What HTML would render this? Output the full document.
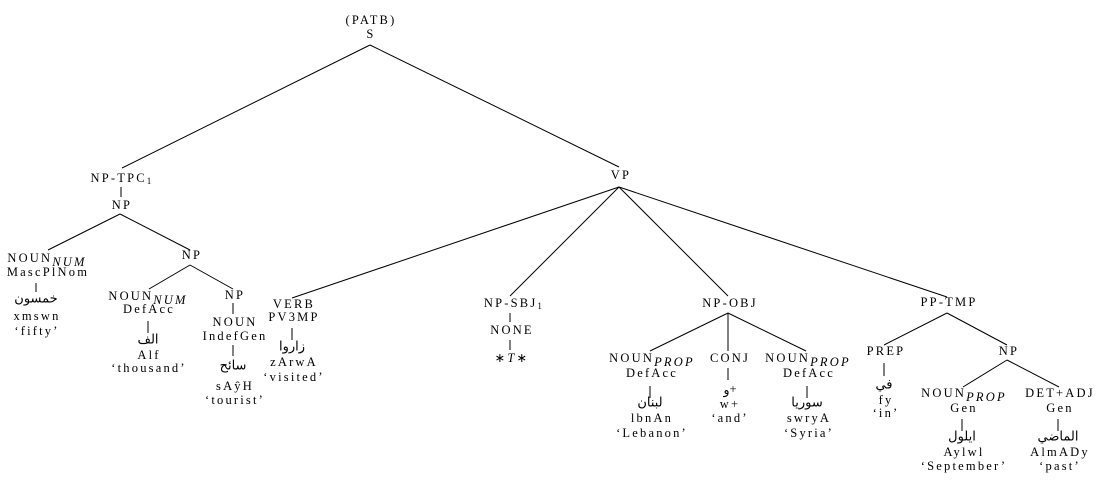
<!DOCTYPE html>
<html><head><meta charset="utf-8"><style>
html,body{margin:0;padding:0;background:#fff;}
svg text{font-family:"Liberation Serif","DejaVu Sans",serif;font-size:12.5px;fill:#000;text-anchor:middle;dominant-baseline:central;letter-spacing:2.2px;}
svg text.ar{font-family:"DejaVu Sans",sans-serif;font-size:13px;letter-spacing:0;}
line{stroke:#000;stroke-width:1;}
</style></head><body>
<svg width="1109" height="486" viewBox="0 0 1109 486" xmlns="http://www.w3.org/2000/svg">
<text x="371" y="20">(PATB)</text>
<text x="371" y="34">S</text>
<line x1="370" y1="45" x2="122" y2="168"/>
<line x1="370" y1="45" x2="619" y2="167"/>

<text x="122" y="178">NP-TPC<tspan font-size="9" dy="3">1</tspan></text>
<line x1="121" y1="187" x2="121" y2="197"/>
<text x="122" y="205">NP</text>
<line x1="120" y1="214" x2="48" y2="250"/>
<line x1="120" y1="214" x2="190" y2="250"/>

<text x="47" y="258">NOUN<tspan font-style="italic" dy="4">NUM</tspan></text>
<text x="48" y="272">MascPlNom</text>
<line x1="36" y1="283" x2="36" y2="292"/>
<text class="ar" x="36" y="299">خمسون</text>
<text x="37" y="316">xmswn</text>
<text x="37" y="331">‘fifty’</text>

<text x="192" y="255">NP</text>
<line x1="190" y1="265" x2="149" y2="289"/>
<line x1="190" y1="265" x2="233" y2="289"/>

<text x="148" y="296">NOUN<tspan font-style="italic" dy="4">NUM</tspan></text>
<text x="149" y="309">DefAcc</text>
<line x1="148" y1="321" x2="148" y2="333"/>
<text class="ar" x="148" y="340">الف</text>
<text x="149" y="355">Alf</text>
<text x="149" y="368">‘thousand’</text>

<text x="235" y="295">NP</text>
<line x1="233" y1="303" x2="233" y2="314"/>
<text x="235" y="322">NOUN</text>
<text x="235" y="336">IndefGen</text>
<line x1="233" y1="345" x2="233" y2="356"/>
<text class="ar" x="233" y="366">سائح</text>
<text x="235" y="386">sAŷH</text>
<text x="235" y="400">‘tourist’</text>

<text x="621" y="175">VP</text>
<line x1="619" y1="187" x2="292" y2="298"/>
<line x1="619" y1="187" x2="510" y2="296"/>
<line x1="619" y1="187" x2="728" y2="296"/>
<line x1="619" y1="187" x2="947" y2="297"/>

<text x="294" y="304">VERB</text>
<text x="294" y="317">PV3MP</text>
<line x1="292" y1="328" x2="292" y2="340"/>
<text class="ar" x="292" y="347">زاروا</text>
<text x="294" y="362">zArwA</text>
<text x="294" y="377">‘visited’</text>

<text x="514" y="303">NP-SBJ<tspan font-size="9" dy="3">1</tspan></text>
<line x1="510" y1="313" x2="510" y2="322"/>
<text x="512" y="330">NONE</text>
<line x1="510" y1="340" x2="510" y2="350"/>
<text x="512" y="358">∗<tspan font-style="italic">T</tspan>∗</text>

<text x="730" y="303">NP-OBJ</text>
<line x1="728" y1="313" x2="650" y2="351"/>
<line x1="728" y1="313" x2="728" y2="351"/>
<line x1="728" y1="313" x2="806" y2="351"/>

<text x="652" y="358">NOUN<tspan font-style="italic" dy="4">PROP</tspan></text>
<text x="652" y="373">DefAcc</text>
<line x1="650" y1="386" x2="650" y2="398"/>
<text class="ar" x="650" y="403">لبنان</text>
<text x="652" y="418">lbnAn</text>
<text x="652" y="433">‘Lebanon’</text>

<text x="730" y="358">CONJ</text>
<line x1="728" y1="368" x2="728" y2="380"/>
<text x="730" y="389"><tspan font-family="DejaVu Sans">و</tspan>+</text>
<text x="730" y="404">w+</text>
<text x="730" y="418">‘and’</text>

<text x="808" y="358">NOUN<tspan font-style="italic" dy="4">PROP</tspan></text>
<text x="809" y="373">DefAcc</text>
<line x1="807" y1="386" x2="807" y2="398"/>
<text class="ar" x="807" y="403">سوريا</text>
<text x="809" y="418">swryA</text>
<text x="809" y="433">‘Syria’</text>

<text x="949" y="302">PP-TMP</text>
<line x1="947" y1="313" x2="884" y2="345"/>
<line x1="947" y1="313" x2="1007" y2="345"/>

<text x="886" y="351">PREP</text>
<line x1="884" y1="363" x2="884" y2="376"/>
<text class="ar" x="884" y="385">في</text>
<text x="886" y="400">fy</text>
<text x="886" y="413">‘in’</text>

<text x="1009" y="351">NP</text>
<line x1="1007" y1="360" x2="963" y2="387"/>
<line x1="1007" y1="360" x2="1059" y2="387"/>

<text x="964" y="393">NOUN<tspan font-style="italic" dy="4">PROP</tspan></text>
<text x="964" y="408">Gen</text>
<line x1="962" y1="419" x2="962" y2="431"/>
<text class="ar" x="962" y="437">ايلول</text>
<text x="964" y="452">Aylwl</text>
<text x="964" y="466">‘September’</text>

<text x="1060" y="393">DET+ADJ</text>
<text x="1060" y="408">Gen</text>
<line x1="1058" y1="419" x2="1058" y2="431"/>
<text class="ar" x="1058" y="437">الماضي</text>
<text x="1060" y="452">AlmADy</text>
<text x="1060" y="466">‘past’</text>
</svg>
</body></html>
